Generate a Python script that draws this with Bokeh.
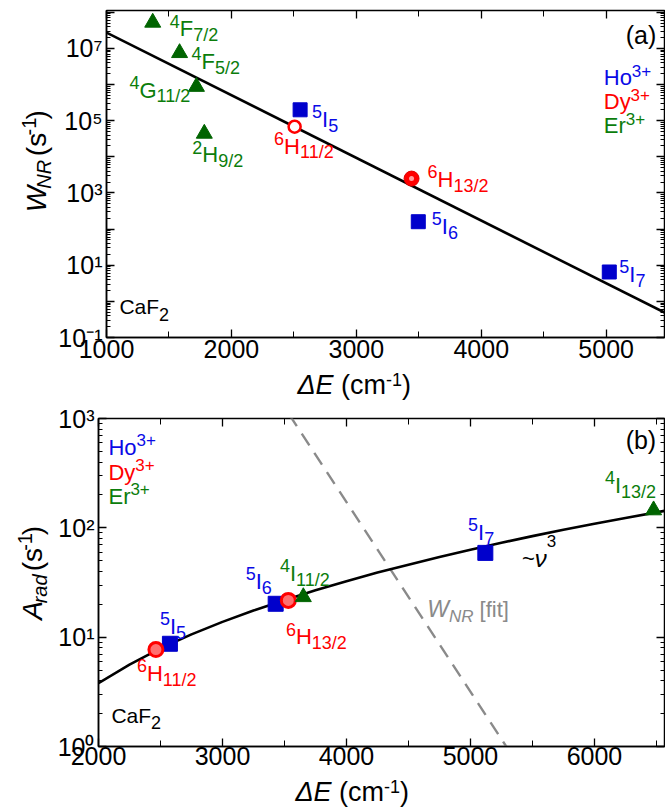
import numpy as np
from bokeh.plotting import figure
from bokeh.layouts import column, row
from bokeh.models import (FixedTicker, CustomJSTickFormatter, LogAxis, LinearAxis,
                          Label, ColumnDataSource, Range1d)
from bokeh.core.properties import value
from bokeh.embed import file_html
from bokeh.resources import INLINE

FONT = "Liberation Sans"

# ---------------- data: panel (a)  W_NR vs dE ----------------
er_a_dE = [1370, 1585, 1720, 1783]
er_a_W = [5.2e7, 7.5e6, 8.7e5, 4.4e4]
er_a_lev = [("4", "F", "7/2"), ("4", "F", "5/2"), ("4", "G", "11/2"), ("2", "H", "9/2")]
ho_a_dE = [2550, 3496, 5025]
ho_a_W = [2.0e5, 160, 6.5]
ho_a_lev = [("5", "I", "5"), ("5", "I", "6"), ("5", "I", "7")]
dy_a_dE = [2506, 3442]
dy_a_W = [6.8e4, 2.5e3]
dy_a_lev = [("6", "H", "11/2"), ("6", "H", "13/2")]
fit_dE = [1000, 5500]          # energy-gap-law fit (straight on the log axis)
fit_W = [2.75e7, 0.43]

# ---------------- data: panel (b)  A_rad vs dE ----------------
ho_b_dE = [2576, 3429, 5120]
ho_b_A = [8.7, 20.2, 59]
ho_b_lev = [("5", "I", "5"), ("5", "I", "6"), ("5", "I", "7")]
dy_b_dE = [2463, 3531]
dy_b_A = [7.7, 21.7]
dy_b_lev = [("6", "H", "11/2"), ("6", "H", "13/2")]
er_b_dE = [3652, 6477]
er_b_A = [23.3, 145]
er_b_lev = [("4", "I", "11/2"), ("4", "I", "13/2")]
# ~nu^3 curve
nu3_dE = [2000, 2250, 2500, 2750, 3000, 3250, 3500, 3750, 4000, 4250, 4500, 4750, 5000,
          5250, 5500, 5750, 6000, 6250, 6565]
nu3_A = [3.8, 5.6, 7.9, 10.6, 13.8, 17.5, 21.8, 26.8, 32.5, 39.0, 46.0, 54.0, 63.0,
         73.0, 84.0, 96.0, 109.0, 123.0, 143.0]

y_ticks_a = [10.0 ** e for e in range(-1, 9)]
y_ticks_b = [1, 10, 100, 1000]
x_ticks_a = [1000, 2000, 3000, 4000, 5000]
x_ticks_b = [2000, 3000, 4000, 5000, 6000]

BLUE_M, BLUE_T = "#0000CC", "#0a0ae6"
RED = "#ff0000"
GREEN_M, GREEN_T = "#006400", "#0b7d0b"
GRAY = "#8a8a8a"

CW = {'W': .944, 'N': .722, 'R': .722, 'A': .667, 'r': .333, 'a': .556, 'd': .556, 'Δ': .668,
      'E': .667, ' ': .278, '(': .333, ')': .333, 's': .5, 'c': .5, 'm': .833, '-': .333,
      '/': .278, 'F': .611, 'G': .778, 'H': .722, 'I': .278, '+': .584, 'o': .556, 'D': .722,
      'y': .5, 'C': .722, 'b': .556, '~': .584, 'ν': .5, 'f': .278, 'i': .222, 't': .278,
      '[': .278, ']': .278}
BASE = 0.35   # baseline correction (fraction of font size)


def wid(s, size):
    return sum(CW.get(ch, 0.556) for ch in s) * size


def split_space(text, size):
    t = text.lstrip(" ")
    return t, wid(text[:len(text) - len(t)], size)


MAIN, SUB, RAISE, LOWER = 22, 18, 9, 5


def level_labels(p, xs, ys, levs, offs, color):
    d = dict(x=[], y=[], xo=[], yo=[], t=[], fs=[])
    for x, y, (sup, main, sub), (dx, dy) in zip(xs, ys, levs, offs):
        parts = [(sup, SUB, dx - wid(sup, SUB), dy - RAISE),
                 (main, MAIN, dx, dy),
                 (sub, SUB, dx + wid(main, MAIN), dy + LOWER)]
        for t, s, ox, oy in parts:
            d["x"].append(x); d["y"].append(y); d["xo"].append(ox)
            d["yo"].append(oy - BASE * s)
            d["t"].append(t); d["fs"].append(f"{s}px")
    p.text(x="x", y="y", text="t", x_offset="xo", y_offset="yo", text_font_size="fs",
           text_color=color, text_font=value(FONT), text_baseline="alphabetic",
           text_align="left", source=ColumnDataSource(d))


class Frame:
    def __init__(self, fl, fr, ft, fb, xr, yr):
        self.fl, self.fr, self.ft, self.fb, self.xr, self.yr = fl, fr, ft, fb, xr, yr

    def data(self, X, Y):
        x0, x1 = self.xr
        l0, l1 = np.log10(self.yr[0]), np.log10(self.yr[1])
        x = x0 + (X - self.fl) / (self.fr - self.fl) * (x1 - x0)
        ly = l0 + (self.fb - Y) / (self.fb - self.ft) * (l1 - l0)
        return float(x), float(10 ** ly)


def rich(p, fr, x0, y0, pieces, color):
    """In-frame rich label. pieces: (text, size, dy, style); x0,y0 canvas px."""
    pos = 0.0
    for text, size, dy, style in pieces:
        t, lead = split_space(text, size)
        pos += lead
        x, y = fr.data(x0 + pos, y0 + dy - BASE * size)
        p.add_layout(Label(x=x, y=y, text=t, text_font=FONT, text_font_size=f"{size}px",
                           text_font_style=style, text_color=color, text_baseline="alphabetic",
                           text_align="left"))
        pos += wid(t, size)


def strip(w, h):
    f = figure(width=w, height=h, x_range=Range1d(0, w), y_range=Range1d(0, h),
               output_backend="svg", toolbar_location=None, min_border=0,
               x_axis_location=None, y_axis_location=None, outline_line_color=None,
               background_fill_color="white", border_fill_color="white")
    f.grid.visible = False
    return f


def rich_strip(f, h, x0, y0, pieces, color, angle=0.0):
    """Axis-title text in a strip figure; x0,y0 in strip px from its top-left."""
    pos = 0.0
    for text, size, dy, style in pieces:
        t, lead = split_space(text, size)
        pos += lead
        if angle == 0.0:
            X, Y = x0 + pos, y0 + dy - BASE * size
        else:
            X, Y = x0 + dy - BASE * size, y0 - pos
        f.text(x=[X], y=[h - Y], text=[t], angle=angle, text_font=value(FONT),
               text_font_size=value(f"{size}px"), text_font_style=value(style),
               text_color=color, text_baseline="alphabetic", text_align="left")
        pos += wid(t, size)


SUPJS = """
const s = {'-':'\u207b','0':'\u2070','1':'\u00b9','2':'\u00b2','3':'\u00b3','4':'\u2074',
           '5':'\u2075','6':'\u2076','7':'\u2077','8':'\u2078','9':'\u2079'};
const e = Math.round(Math.log10(tick));
if (SKIP && Math.abs(e) % 2 == 0) { return ' '; }
return '10' + String(e).split('').map(c => s[c]).join('');
"""


def style_axes(p, xt, xminor, yt, yminor, skip, xstand):
    p.xaxis.ticker = FixedTicker(ticks=xt, minor_ticks=xminor)
    p.yaxis.ticker = FixedTicker(ticks=yt, minor_ticks=yminor)
    p.yaxis.formatter = CustomJSTickFormatter(code=SUPJS.replace("SKIP", "true" if skip else "false"))
    for ax in (p.xaxis[0], p.yaxis[0]):
        ax.major_label_text_font = FONT
        ax.major_label_text_font_size = "25px"
        ax.major_label_text_color = "black"
        ax.axis_line_width = 1.5
        ax.major_tick_line_width = 1.3
        ax.minor_tick_line_width = 1.0
        ax.major_tick_in = 8
        ax.major_tick_out = 0
        ax.minor_tick_in = 4
        ax.minor_tick_out = 0
    p.xaxis.minor_tick_in = 6
    p.xaxis.major_label_standoff = xstand
    p.yaxis.major_label_standoff = 4
    top = LinearAxis(ticker=FixedTicker(ticks=xt, minor_ticks=xminor))
    right = LogAxis(ticker=FixedTicker(ticks=yt, minor_ticks=yminor))
    for ax in (top, right):
        ax.major_label_text_color = None
        ax.major_label_text_font_size = "1px"
        ax.major_label_standoff = 0
        ax.axis_line_color = None
        ax.major_tick_in = 8
        ax.major_tick_out = 0
        ax.minor_tick_in = 4
        ax.minor_tick_out = 0
        ax.major_tick_line_width = 1.3
    top.minor_tick_in = 6
    p.add_layout(top, "above")
    p.add_layout(right, "right")
    p.xgrid.visible = False
    p.ygrid.visible = False
    p.outline_line_color = "black"
    p.outline_line_width = 1.5


def decade_minor(lo, hi):
    return [k * 10.0 ** n for n in range(lo, hi) for k in range(2, 10)]


# ======================= panel (a) =======================
XR1, YR1 = (1000, 5467), (0.1, 1.12e8)
p1 = figure(width=610, height=368, x_range=Range1d(*XR1), y_range=Range1d(*YR1),
            y_axis_type="log", output_backend="svg", toolbar_location=None,
            min_border_left=48, min_border_right=1, min_border_top=10, min_border_bottom=31,
            background_fill_color="white", border_fill_color="white")
style_axes(p1, x_ticks_a, [1500, 2500, 3500, 4500], y_ticks_a, decade_minor(-1, 8), True, 2)

p1.line(fit_dE, fit_W, line_color="black", line_width=2.6)
p1.scatter(er_a_dE, er_a_W, marker="triangle", size=16, fill_color=GREEN_M, line_color=GREEN_M)
p1.scatter(ho_a_dE, ho_a_W, marker="square", size=14, fill_color=BLUE_M, line_color=BLUE_M)
p1.scatter(dy_a_dE[:1], dy_a_W[:1], marker="circle", size=12, fill_color="white",
           line_color=RED, line_width=2.5)
p1.scatter(dy_a_dE[1:], dy_a_W[1:], marker="circle", size=15, fill_color=RED, line_color="#e00000")
p1.scatter(dy_a_dE[1:], dy_a_W[1:], marker="circle", size=5, fill_color="#ffb0b0",
           line_color=None, fill_alpha=0.9)

level_labels(p1, er_a_dE, er_a_W, er_a_lev, [(27, 14), (22, 16), (-57, 11), (-2, 29)], GREEN_T)
level_labels(p1, ho_a_dE, ho_a_W, ho_a_lev, [(22, 17), (23.5, 12.5), (20, 10)], BLUE_T)
level_labels(p1, dy_a_dE, dy_a_W, dy_a_lev, [(-10.5, 27), (26, 8.5)], RED)

F1 = Frame(103, 664, 10, 337, XR1, YR1)      # page px
rich(p1, F1, 625, 43, [("(a)", 25, 0, "normal")], "black")
rich(p1, F1, 603, 85, [("Ho", 22, 0, "normal"), ("3+", 17, -9, "normal")], BLUE_T)
rich(p1, F1, 603, 109, [("Dy", 22, 0, "normal"), ("3+", 17, -9, "normal")], RED)
rich(p1, F1, 603, 133, [("Er", 22, 0, "normal"), ("3+", 17, -9, "normal")], GREEN_T)
rich(p1, F1, 116, 313, [("CaF", 21, 0, "normal"), ("2", 18, 7, "normal")], "black")

ya = strip(55, 368)
rich_strip(ya, 368, 46, 227, [("W", 28, 0, "italic"), ("NR", 20, 4, "italic"), (" (s", 28, 0, "normal"),
                              ("-1", 20, -11, "normal"), (")", 28, 0, "normal")], "black",
           angle=np.pi / 2)
xa = strip(665, 32)
rich_strip(xa, 32, 297, 26, [("ΔE", 27, 0, "italic"), (" (cm", 27, 0, "normal"),
                             ("-1", 18, -9, "normal"), (")", 27, 0, "normal")], "black")

# ======================= panel (b) =======================
XR2, YR2 = (2000, 6565), (1, 1000)
p2 = figure(width=611, height=375, x_range=Range1d(*XR2), y_range=Range1d(*YR2),
            y_axis_type="log", output_backend="svg", toolbar_location=None,
            min_border_left=42, min_border_right=1, min_border_top=18, min_border_bottom=29,
            background_fill_color="white", border_fill_color="white")
style_axes(p2, x_ticks_b, [2500, 3500, 4500, 5500, 6500], y_ticks_b, decade_minor(0, 3), False, 0)

p2.line(fit_dE, fit_W, line_color=GRAY, line_width=2.4, line_dash="14 9")
p2.line(nu3_dE, nu3_A, line_color="black", line_width=2.6)
p2.scatter(ho_b_dE, ho_b_A, marker="square", size=15, fill_color=BLUE_M, line_color=BLUE_M)
p2.scatter(dy_b_dE, dy_b_A, marker="circle", size=14, fill_color="#ff7070", line_color=RED,
           line_width=3)
p2.scatter(er_b_dE, er_b_A, marker="triangle", size=16, fill_color=GREEN_M, line_color=GREEN_M)

level_labels(p2, ho_b_dE, ho_b_A, ho_b_lev, [(0, -10), (-20, -15), (-7.3, -12.7)], BLUE_T)
level_labels(p2, dy_b_dE, dy_b_A, dy_b_lev, [(-9, 31.7), (7.6, 44)], RED)
level_labels(p2, er_b_dE, er_b_A, er_b_lev, [(-13.4, -16), (-38.7, -17)], GREEN_T)

F2 = Frame(96, 664, 18, 346, XR2, YR2)       # px relative to panel (b) top
rich(p2, F2, 625, 48, [("(b)", 25, 0, "normal")], "black")
rich(p2, F2, 106, 55, [("Ho", 22, 0, "normal"), ("3+", 17, -10, "normal")], BLUE_T)
rich(p2, F2, 106, 80, [("Dy", 22, 0, "normal"), ("3+", 17, -10, "normal")], RED)
rich(p2, F2, 106, 104, [("Er", 22, 0, "normal"), ("3+", 17, -10, "normal")], GREEN_T)
rich(p2, F2, 109, 322, [("CaF", 21, 0, "normal"), ("2", 18, 6, "normal")], "black")
rich(p2, F2, 521, 166, [("~", 22, 0, "normal"), ("ν", 24, 0, "italic"), ("3", 17, -20, "normal")], "black")
rich(p2, F2, 426, 217, [("W", 23, 0, "italic"), ("NR", 17, 5, "italic"), (" [fit]", 22, 0, "normal")], GRAY)

yb = strip(54, 375)
rich_strip(yb, 375, 42, 230, [("A", 28, 0, "italic"), ("rad", 20, 4, "italic"), (" (s", 28, 0, "normal"),
                              ("-1", 20, -11, "normal"), (")", 28, 0, "normal")], "black",
           angle=np.pi / 2)
xb = strip(665, 32)
rich_strip(xb, 32, 295, 26, [("ΔE", 27, 0, "italic"), (" (cm", 27, 0, "normal"),
                             ("-1", 18, -9, "normal"), (")", 27, 0, "normal")], "black")

layout = column(row(ya, p1, spacing=0), xa, row(yb, p2, spacing=0), xb, spacing=0)
open("out.html", "w").write(file_html(layout, INLINE))
